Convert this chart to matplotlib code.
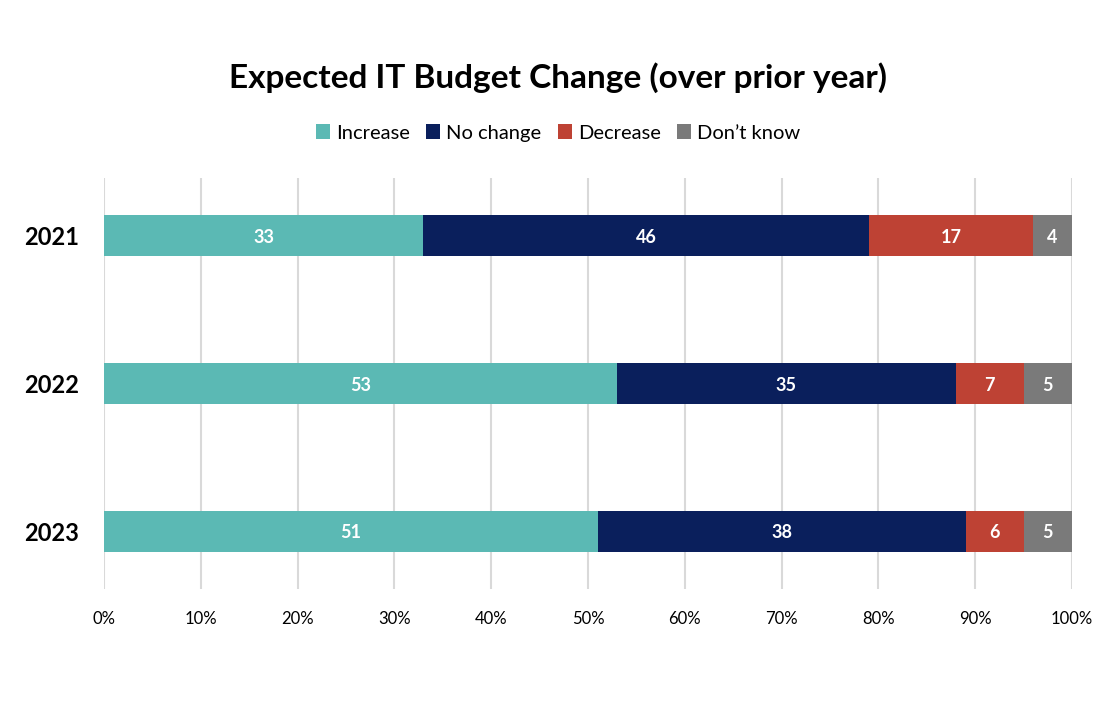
import matplotlib
matplotlib.use("Agg")
import matplotlib.pyplot as plt
import numpy as np

plt.rcParams['font.family'] = ['Lato', 'DejaVu Sans']

years = ["2021", "2022", "2023"]
series_names = ["Increase", "No change", "Decrease", "Don\u2019t know"]
increase = [33, 53, 51]
no_change = [46, 35, 38]
decrease = [17, 7, 6]
dont_know = [4, 5, 5]
colors = ["#5BB9B4", "#0A1F5C", "#BE4234", "#7A7A7A"]

fig = plt.figure(figsize=(11.16, 7.14), dpi=100)
ax = fig.add_axes([104/1116, 1 - 589/714, (1072-104)/1116, (589-178)/714])

y = np.arange(len(years))
left = np.zeros(len(years))
for name, vals, c in zip(series_names, [increase, no_change, decrease, dont_know], colors):
    vals = np.array(vals, dtype=float)
    bars = ax.barh(y, vals, left=left, height=0.278, color=c, label=name, zorder=3)
    for b, v in zip(bars, vals):
        ax.text(b.get_x() + b.get_width()/2, b.get_y() + b.get_height()/2 + 0.012, f"{int(v)}",
                ha='center', va='center', color='white', fontsize=13, fontweight='bold', zorder=4)
    left += vals

ax.set_xlim(0, 100)
ax.set_ylim(2.393, -0.393)
ax.set_yticks(y)
ax.set_yticklabels(years, fontsize=17, fontweight='bold')
ax.set_xticks(np.arange(0, 101, 10))
ax.set_xticklabels([f"{t}%" for t in range(0, 101, 10)], fontsize=12)
ax.tick_params(axis='both', length=0)
ax.tick_params(axis='x', pad=16)
ax.tick_params(axis='y', pad=18)
ax.grid(axis='x', color='#D9D9D9', linewidth=1.5, zorder=0)
for s in ax.spines.values():
    s.set_visible(False)

fig.text(0.5, 1 - 78/714, "Expected IT Budget Change (over prior year)", ha='center', va='center',
         fontsize=24, fontweight='bold')
fig.legend(loc='center', bbox_to_anchor=(0.5, 1 - 133/714), ncol=4, frameon=False,
           fontsize=14.5, handlelength=0.7, handleheight=0.7, handletextpad=0.3, columnspacing=0.8)

fig.savefig("out.png", dpi=100)
